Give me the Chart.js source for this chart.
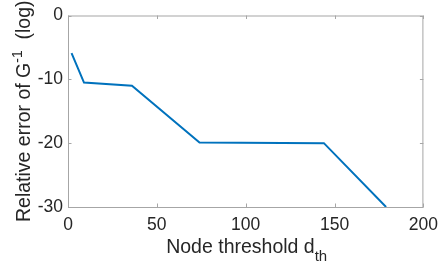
<!DOCTYPE html>
<html lang="en">
<head>
    <meta charset="UTF-8">
    <title>Relative error vs node threshold</title>
    <script src="https://cdn.jsdelivr.net/npm/chart.js"></script>
    <style>
        body {
            margin: 0;
            background-color: #fff;
        }
        canvas {
            display: block;
        }
    </style>
</head>
<body>
    <canvas id="errorChart" width="446" height="268"></canvas>

    <script>
        // values
        const thresholds = [2, 9, 36, 74, 144, 179];
        const relError = [-5.9, -10.5, -11.0, -19.9, -20.0, -30.0];
        const xTicks = [0, 50, 100, 150, 200];
        const yTicks = [0, -10, -20, -30];

        const FONT = "'Liberation Sans', Arial, Helvetica, sans-serif";
        const TEXT_COLOR = '#262626';
        const BOX_COLOR = '#a6a6a6';

        // draw text made of pieces (for super/subscripts), centred on x
        function drawRich(ctx, parts, x, y) {
            let total = 0;
            parts.forEach(p => {
                ctx.font = `${p.size}px ${FONT}`;
                p.w = ctx.measureText(p.text).width;
                total += p.w;
            });
            let cx = x - total / 2;
            parts.forEach(p => {
                ctx.font = `${p.size}px ${FONT}`;
                ctx.fillText(p.text, cx, y + p.dy);
                cx += p.w;
            });
        }

        // MATLAB-like box with inward ticks, plus axis labels
        const matlabAxes = {
            id: 'matlabAxes',
            beforeDatasetsDraw(chart) {
                const { ctx, chartArea: a, scales } = chart;
                const tl = 3.5;
                ctx.save();
                ctx.strokeStyle = BOX_COLOR;
                ctx.lineWidth = 1;
                ctx.strokeRect(a.left + 0.5, a.top + 0.5, a.right - a.left - 1, a.bottom - a.top);
                ctx.beginPath();
                xTicks.forEach(v => {
                    const px = Math.round(scales.x.getPixelForValue(v)) + 0.5;
                    ctx.moveTo(px, a.bottom); ctx.lineTo(px, a.bottom - tl);
                    ctx.moveTo(px, a.top); ctx.lineTo(px, a.top + tl);
                });
                yTicks.forEach(v => {
                    const py = Math.round(scales.y.getPixelForValue(v)) + 0.5;
                    ctx.moveTo(a.left, py); ctx.lineTo(a.left + tl, py);
                    ctx.moveTo(a.right, py); ctx.lineTo(a.right - tl, py);
                });
                ctx.stroke();
                ctx.restore();
            },
            afterDraw(chart) {
                const { ctx, chartArea: a } = chart;
                ctx.save();
                ctx.fillStyle = TEXT_COLOR;
                ctx.textBaseline = 'alphabetic';
                ctx.textAlign = 'left';
                drawRich(ctx, [
                    { text: 'Node threshold d', size: 19.5, dy: 0 },
                    { text: 'th', size: 15, dy: 8.5 }
                ], (a.left + a.right) / 2 + 1, 252.5);

                ctx.translate(30, (a.top + a.bottom) / 2);
                ctx.rotate(-Math.PI / 2);
                drawRich(ctx, [
                    { text: 'Relative error of G', size: 19.5, dy: 0 },
                    { text: '-1', size: 14, dy: -8 },
                    { text: '  (log)', size: 19.5, dy: 0 }
                ], 0, 0);
                ctx.restore();
            }
        };

        new Chart(document.getElementById('errorChart'), {
            type: 'line',
            data: {
                datasets: [{
                    data: thresholds.map((x, i) => ({ x, y: relError[i] })),
                    borderColor: '#0072BD',
                    borderWidth: 2,
                    pointRadius: 0,
                    fill: false,
                    tension: 0
                }]
            },
            options: {
                responsive: false,
                animation: false,
                layout: { padding: { top: 12, right: 16, left: 0, bottom: 0 } },
                plugins: {
                    legend: { display: false },
                    tooltip: { enabled: false }
                },
                scales: {
                    x: {
                        type: 'linear',
                        min: 0,
                        max: 200,
                        afterFit: s => { s.height = 61; },
                        afterBuildTicks: s => { s.ticks = xTicks.map(v => ({ value: v })); },
                        grid: { display: false, drawTicks: false },
                        border: { display: false },
                        ticks: {
                            padding: 8,
                            maxRotation: 0,
                            color: TEXT_COLOR,
                            font: { family: FONT, size: 17.5 }
                        }
                    },
                    y: {
                        type: 'linear',
                        min: -30,
                        max: 0,
                        afterFit: s => { s.width = 68; },
                        afterBuildTicks: s => { s.ticks = yTicks.map(v => ({ value: v })); },
                        grid: { display: false, drawTicks: false },
                        border: { display: false },
                        ticks: {
                            padding: 5,
                            color: TEXT_COLOR,
                            font: { family: FONT, size: 17.5 }
                        }
                    }
                }
            },
            plugins: [matlabAxes]
        });
    </script>
</body>
</html>
